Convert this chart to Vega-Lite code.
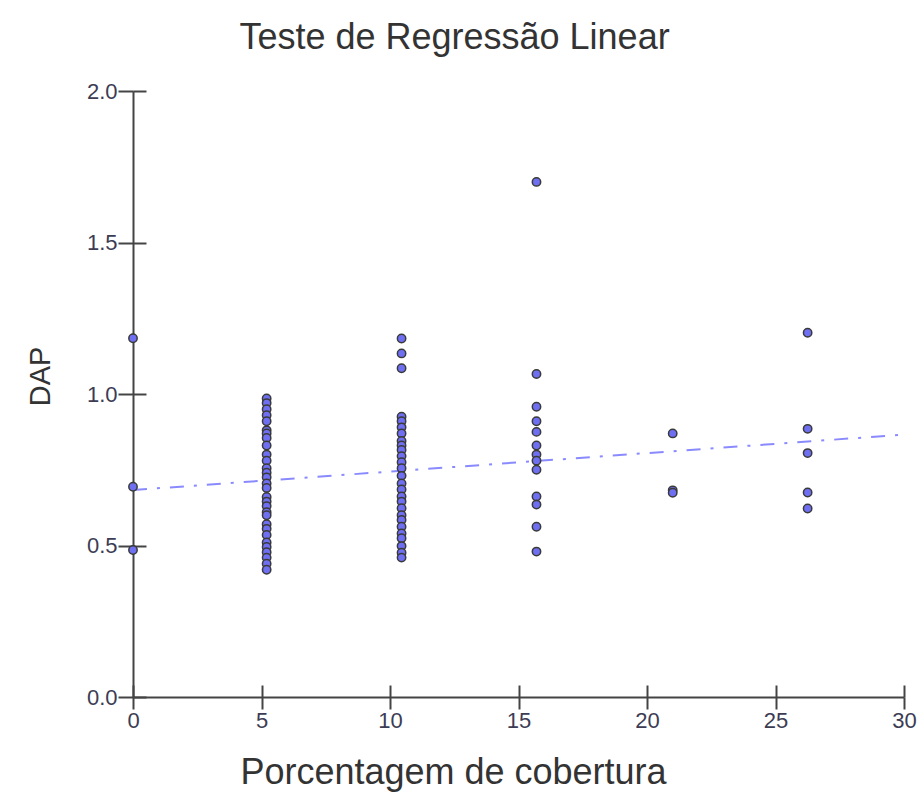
{
  "$schema": "https://vega.github.io/schema/vega-lite/v6.json",
  "width": 771,
  "height": 606,
  "autosize": {"type": "none"},
  "padding": {"left": 133, "top": 91, "right": 16, "bottom": 110},
  "background": "white",
  "title": {
    "text": "Teste de Regressão Linear",
    "font": "Liberation Sans",
    "fontSize": 36,
    "fontWeight": "normal",
    "color": "#333333",
    "anchor": "middle",
    "dx": -64,
    "offset": 23
  },
  "datasets": {
    "pts": [
      {"x": 0, "y": 1.184}, {"x": 0, "y": 0.694}, {"x": 0, "y": 0.485},
      {"x": 5.2, "y": 0.985}, {"x": 5.2, "y": 0.97}, {"x": 5.2, "y": 0.95}, {"x": 5.2, "y": 0.93}, {"x": 5.2, "y": 0.91},
      {"x": 5.2, "y": 0.88}, {"x": 5.2, "y": 0.87}, {"x": 5.2, "y": 0.855}, {"x": 5.2, "y": 0.83}, {"x": 5.2, "y": 0.8},
      {"x": 5.2, "y": 0.78}, {"x": 5.2, "y": 0.755}, {"x": 5.2, "y": 0.74}, {"x": 5.2, "y": 0.725}, {"x": 5.2, "y": 0.705},
      {"x": 5.2, "y": 0.69}, {"x": 5.2, "y": 0.66}, {"x": 5.2, "y": 0.645}, {"x": 5.2, "y": 0.63}, {"x": 5.2, "y": 0.61},
      {"x": 5.2, "y": 0.6}, {"x": 5.2, "y": 0.57}, {"x": 5.2, "y": 0.555}, {"x": 5.2, "y": 0.535}, {"x": 5.2, "y": 0.51},
      {"x": 5.2, "y": 0.495}, {"x": 5.2, "y": 0.478}, {"x": 5.2, "y": 0.46}, {"x": 5.2, "y": 0.44}, {"x": 5.2, "y": 0.42},
      {"x": 10.45, "y": 1.183}, {"x": 10.45, "y": 1.134}, {"x": 10.45, "y": 1.085}, {"x": 10.45, "y": 0.925}, {"x": 10.45, "y": 0.91},
      {"x": 10.45, "y": 0.89}, {"x": 10.45, "y": 0.87}, {"x": 10.45, "y": 0.845}, {"x": 10.45, "y": 0.83}, {"x": 10.45, "y": 0.815},
      {"x": 10.45, "y": 0.795}, {"x": 10.45, "y": 0.775}, {"x": 10.45, "y": 0.755}, {"x": 10.45, "y": 0.73}, {"x": 10.45, "y": 0.705},
      {"x": 10.45, "y": 0.685}, {"x": 10.45, "y": 0.662}, {"x": 10.45, "y": 0.645}, {"x": 10.45, "y": 0.623}, {"x": 10.45, "y": 0.6},
      {"x": 10.45, "y": 0.584}, {"x": 10.45, "y": 0.562}, {"x": 10.45, "y": 0.54}, {"x": 10.45, "y": 0.524}, {"x": 10.45, "y": 0.498},
      {"x": 10.45, "y": 0.476}, {"x": 10.45, "y": 0.46},
      {"x": 15.7, "y": 1.7}, {"x": 15.7, "y": 1.066}, {"x": 15.7, "y": 0.958}, {"x": 15.7, "y": 0.91}, {"x": 15.7, "y": 0.875},
      {"x": 15.7, "y": 0.83}, {"x": 15.7, "y": 0.8}, {"x": 15.7, "y": 0.78}, {"x": 15.7, "y": 0.75}, {"x": 15.7, "y": 0.662},
      {"x": 15.7, "y": 0.635}, {"x": 15.7, "y": 0.562}, {"x": 15.7, "y": 0.48},
      {"x": 21.0, "y": 0.87}, {"x": 21.0, "y": 0.682}, {"x": 21.0, "y": 0.674},
      {"x": 26.25, "y": 1.202}, {"x": 26.25, "y": 0.885}, {"x": 26.25, "y": 0.805}, {"x": 26.25, "y": 0.675}, {"x": 26.25, "y": 0.622}
    ],
    "fit": [
      {"x": 0, "y": 0.683},
      {"x": 30, "y": 0.866}
    ]
  },
  "layer": [
    {
      "data": {"name": "fit"},
      "mark": {"type": "line", "color": "#8a8aff", "strokeWidth": 2, "strokeDash": [14, 10, 3, 10], "clip": true},
      "encoding": {
        "x": {
          "field": "x", "type": "quantitative",
          "scale": {"domain": [0, 30], "nice": false, "zero": true},
          "axis": {
            "orient": "bottom", "title": null, "labels": false, "domain": false, "grid": false,
            "values": [0, 5, 10, 15, 20, 25, 30],
            "tickColor": "#444444", "tickWidth": 2, "tickSize": -12
          }
        },
        "y": {
          "field": "y", "type": "quantitative",
          "scale": {"domain": [0, 2], "nice": false},
          "axis": {
            "orient": "left", "title": null, "labels": false, "domain": false, "grid": false,
            "values": [0, 0.5, 1, 1.5, 2],
            "tickColor": "#444444", "tickWidth": 2, "tickSize": -13
          }
        }
      }
    },
    {
      "data": {"name": "pts"},
      "mark": {"type": "point", "shape": "circle", "filled": true, "fill": "#6f6ff2", "stroke": "#3a3a3a", "strokeWidth": 1.5, "size": 70, "opacity": 1},
      "encoding": {
        "x": {
          "field": "x", "type": "quantitative",
          "scale": {"domain": [0, 30], "nice": false, "zero": true},
          "axis": {
            "orient": "bottom",
            "title": "Porcentagem de cobertura",
            "titleFont": "Liberation Sans", "titleFontSize": 36, "titleFontWeight": "normal", "titleColor": "#333333",
            "titleX": 320, "titleY": 86, "titleAlign": "center", "titleBaseline": "alphabetic",
            "values": [0, 5, 10, 15, 20, 25, 30],
            "labelFont": "Liberation Sans", "labelFontSize": 22, "labelColor": "#3c3c55",
            "labelPadding": 1, "labelFlush": false,
            "grid": false, "domainColor": "#444444", "domainWidth": 2,
            "tickColor": "#444444", "tickWidth": 2, "tickSize": 12
          }
        },
        "y": {
          "field": "y", "type": "quantitative",
          "scale": {"domain": [0, 2], "nice": false},
          "axis": {
            "orient": "left",
            "title": "DAP",
            "titleFont": "Liberation Sans", "titleFontSize": 29, "titleFontWeight": "normal", "titleColor": "#333333",
            "titleX": -93, "titleY": 285, "titleAlign": "center", "titleAngle": -90, "titleBaseline": "middle",
            "values": [0, 0.5, 1, 1.5, 2],
            "format": ".1f",
            "labelFont": "Liberation Sans", "labelFontSize": 22, "labelColor": "#3c3c55",
            "labelPadding": 1, "labelFlush": false,
            "grid": false, "domainColor": "#444444", "domainWidth": 2,
            "tickColor": "#444444", "tickWidth": 2, "tickSize": 15
          }
        }
      }
    }
  ],
  "resolve": {"axis": {"x": "independent", "y": "independent"}},
  "config": {"view": {"stroke": null}}
}
